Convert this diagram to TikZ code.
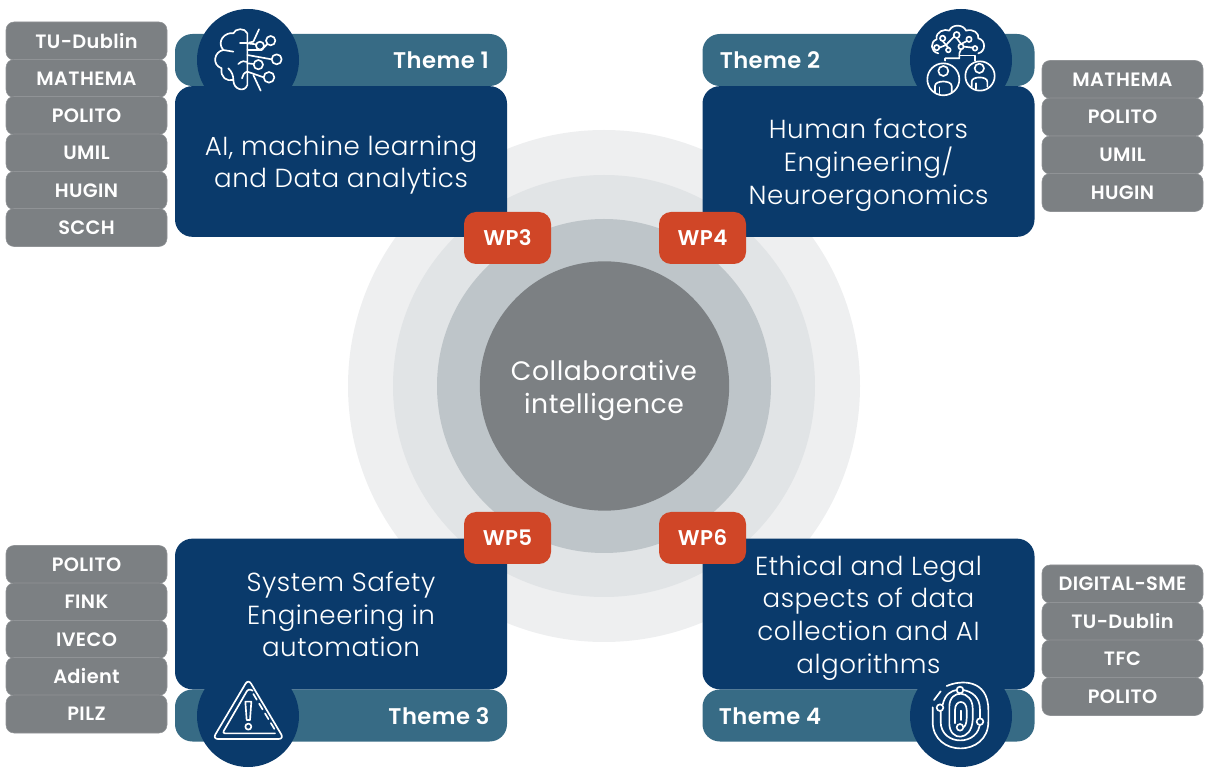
\documentclass[tikz,border=0pt]{standalone}
\usepackage{fontspec}
\setmainfont{Poppins}[UprightFont=* Light, BoldFont=* SemiBold]
\newfontfamily\pillfont[LetterSpace=2]{Poppins SemiBold}
\newfontfamily\corefont[LetterSpace=2]{Poppins}
\usetikzlibrary{positioning}
\definecolor{mnavy}{HTML}{0A3A6B}
\definecolor{mteal}{HTML}{376B85}
\definecolor{mred}{HTML}{D04627}
\definecolor{mgray}{HTML}{7C8083}
\definecolor{ringa}{HTML}{EEEFF0}
\definecolor{ringb}{HTML}{E1E4E6}
\definecolor{ringc}{HTML}{BEC5C9}
\tikzset{pill/.style = {fill=mgray, draw=mgray!85!white, line width=0.4pt, rounded corners=6pt, inner sep=0,
                        minimum width=120.75pt, minimum height=28.5pt, text=white,
                        font=\pillfont\fontsize{14.5}{14.5}\selectfont}}
\tikzset{mainbox/.style = {fill=mnavy, rounded corners=13pt, inner sep=0, minimum width=249pt, minimum height=113pt}}
\tikzset{themebar/.style = {fill=mteal, rounded corners=13pt, inner sep=0, minimum width=249pt, minimum height=39pt}}
\tikzset{iconback/.style = {fill=mnavy, circle, inner sep=0, minimum size=76.5pt}}
\tikzset{wpbadge/.style = {fill=mred, rounded corners=9pt, inner sep=0, minimum width=65.25pt, minimum height=39pt,
                           text=white, font=\bfseries\addfontfeature{LetterSpace=2}\fontsize{16}{16}\selectfont}}
\tikzset{themetext/.style = {text=white, inner sep=0, font=\bfseries\addfontfeature{LetterSpace=2}\fontsize{17}{17}\selectfont}}
\tikzset{bodytext/.style = {text=white, inner sep=0, align=center,
                            font=\addfontfeature{LetterSpace=2}\fontsize{19.6}{24.5}\selectfont}}
\tikzset{iconzoom/.style = {shift={(#1)}, x=0.25pt, y=-0.25pt, draw=white, line width=1.25pt, line cap=round, line join=round}}
\begin{document}
\begin{tikzpicture}[x=0.75pt, y=-0.75pt]
      \useasboundingbox (0, 0) rectangle (1208, 773);

      % rings
      \fill [color=ringa] (604, 386) circle [radius=256];
      \fill [color=ringb] (604, 386) circle [radius=211];
      \fill [color=ringc] (604, 386) circle [radius=167];
      \node [fill=mgray, circle, inner sep=0, minimum size=187pt] (core) at (604.5, 386) {};
      \node [text=white, inner sep=0, align=center,
             font=\corefont\fontsize{20}{24.7}\selectfont] (coretext) at (604, 390.5) {Collaborative\\intelligence};

      % theme bars
      \node [themebar] (barone) at (341, 60) {};
      \node [themebar] (bartwo) at (868.5, 60) {};
      \node [themebar] (barthree) at (341, 715.5) {};
      \node [themebar] (barfour) at (868.5, 715.5) {};
      \node [themetext] (labelone) at (441, 60.5) {Theme 1};
      \node [themetext] (labeltwo) at (770, 60.5) {Theme 2};
      \node [themetext] (labelthree) at (439, 716.5) {Theme 3};
      \node [themetext] (labelfour) at (770, 716.5) {Theme 4};

      % icon discs
      \node [iconback] (discone) at (248, 60) {};
      \node [iconback] (disctwo) at (961, 60) {};
      \node [iconback] (discthree) at (248, 716) {};
      \node [iconback] (discfour) at (961, 716) {};

      % main boxes
      \node [mainbox] (boxone) at (341, 161.5) {};
      \node [mainbox] (boxtwo) at (868.5, 161.5) {};
      \node [mainbox] (boxthree) at (341, 614) {};
      \node [mainbox] (boxfour) at (868.5, 614) {};
      \node [bodytext] (textone) at (341, 165) {AI, machine learning\\and Data analytics};
      \node [bodytext] (texttwo) at (868.5, 165) {Human factors\\Engineering/\\Neuroergonomics};
      \node [bodytext] (textthree) at (341, 614.5) {System Safety\\Engineering in\\automation};
      \node [bodytext] (textfour) at (868.5, 618) {Ethical and Legal\\aspects of data\\collection and AI\\algorithms};

      % badges
      \node [wpbadge] (wpthree) at (507.5, 238) {WP3};
      \node [wpbadge] (wpfour) at (702.5, 238) {WP4};
      \node [wpbadge] (wpfive) at (507.5, 538) {WP5};
      \node [wpbadge] (wpsix) at (702.5, 538) {WP6};

      % partner lists
      \node [pill] (a1) at (86.5, 41) {TU-Dublin};
      \node [pill] (a2) at (86.5, 78.5) {MATHEMA};
      \node [pill] (a3) at (86.5, 115.5) {POLITO};
      \node [pill] (a4) at (86.5, 153) {UMIL};
      \node [pill] (a5) at (86.5, 190.5) {HUGIN};
      \node [pill] (a6) at (86.5, 227.5) {SCCH};

      \node [pill] (b1) at (1122.5, 79.5) {MATHEMA};
      \node [pill] (b2) at (1122.5, 117) {POLITO};
      \node [pill] (b3) at (1122.5, 155) {UMIL};
      \node [pill] (b4) at (1122.5, 192.5) {HUGIN};

      \node [pill] (c1) at (86.5, 564.5) {POLITO};
      \node [pill] (c2) at (86.5, 602) {FINK};
      \node [pill] (c3) at (86.5, 639.5) {IVECO};
      \node [pill] (c4) at (86.5, 676.5) {Adient};
      \node [pill] (c5) at (86.5, 714) {PILZ};

      \node [pill] (d1) at (1122.5, 584) {DIGITAL-SME};
      \node [pill] (d2) at (1122.5, 621.5) {TU-Dublin};
      \node [pill] (d3) at (1122.5, 659) {TFC};
      \node [pill] (d4) at (1122.5, 696.5) {POLITO};

      % brain
      \begin{scope}[iconzoom={170,0}]
        \draw (232, 100) .. controls (225, 82) and (195, 85) .. (190, 100)
              .. controls (165, 95) and (138, 125) .. (160, 150)
              .. controls (132, 155) and (125, 195) .. (155, 205)
              .. controls (150, 232) and (170, 245) .. (190, 240)
              .. controls (190, 270) and (225, 278) .. (232, 255) -- cycle;
        \draw (160, 150) -- (190, 155);
        \draw (210, 130) -- (232, 130);
        \draw (205, 192) .. controls (215, 182) and (225, 182) .. (232, 186);
        \draw (175, 205) .. controls (185, 215) and (190, 225) .. (190, 240);
        \draw (232, 215) .. controls (222, 218) and (218, 225) .. (216, 235);
        \draw (237, 128) -- (250, 125) -- (267, 88);
        \draw (232, 130) -- (258, 133);
        \draw (270, 137) circle [radius=12];
        \draw (232, 150) -- (275, 150) -- (292, 132);
        \draw (302, 122) circle [radius=14];
        \draw (232, 165) -- (305, 178);
        \draw (320, 178) circle [radius=15];
        \draw (232, 190) -- (251, 192);
        \draw (265, 194) circle [radius=14];
        \draw (232, 215) -- (281, 232);
        \draw (297, 232) circle [radius=16];
        \draw (250, 225) -- (272, 272);
      \end{scope}

      % people and cloud
      \begin{scope}[iconzoom={880,0}]
        \draw (190, 238) circle [radius=48];
        \draw (300, 228) circle [radius=44];
        \draw (190, 213) circle [radius=15];
        \draw (298, 205) circle [radius=14];
        \draw (165, 278) -- (165, 258) .. controls (165, 240) and (215, 240) .. (215, 258) -- (215, 278);
        \draw (275, 260) -- (275, 245) .. controls (275, 228) and (322, 228) .. (322, 245) -- (322, 260);
        \draw (178, 280) -- (178, 262);
        \draw (288, 266) -- (288, 250);
        \draw (175, 160) .. controls (150, 155) and (150, 125) .. (170, 118)
              .. controls (165, 95) and (195, 85) .. (208, 92)
              .. controls (215, 72) and (250, 72) .. (258, 92)
              .. controls (280, 85) and (298, 100) .. (295, 115)
              .. controls (318, 120) and (318, 155) .. (295, 160);
        \draw (230, 105) circle [radius=9];
        \draw (267, 118) circle [radius=8];
        \draw (188, 115) circle [radius=8];
        \draw (170, 143) circle [radius=8];
        \draw (205, 150) circle [radius=7];
        \draw (243, 140) circle [radius=8];
        \draw (285, 145) circle [radius=7];
        \draw (178, 143) -- (198, 135) -- (205, 143);
        \draw (188, 123) -- (198, 135) -- (222, 110);
        \draw (230, 114) -- (243, 132);
        \draw (243, 132) -- (261, 123);
        \draw (251, 140) -- (278, 143);
        \draw (195, 182) -- (195, 175) -- (238, 175) -- (238, 160) -- (243, 148);
        \draw (238, 167) -- (285, 167) -- (285, 182);
      \end{scope}

      % warning sign
      \begin{scope}[iconzoom={170,670}]
        \draw [rounded corners=4pt] (235, 27) -- (342, 207) -- (128, 207) -- cycle;
        \draw [rounded corners=2pt] (248, 62) -- (235, 56) -- (157, 190) -- (315, 190);
        \draw [dash pattern=on 5pt off 3.5pt] (250, 72) -- (318, 185);
        \draw (226, 95) -- (244, 95) -- (240, 150) -- (230, 150) -- cycle;
        \draw (235, 170) circle [radius=9];
      \end{scope}

      % fingerprint
      \begin{scope}[iconzoom={880,670}]
        \draw (158, 112) -- (158, 155) .. controls (158, 262) and (325, 262) .. (325, 155)
              -- (325, 120) .. controls (325, 25) and (240, 30) .. (200, 48);
        \draw (162, 90) -- (182, 64);
        \draw (182, 122) -- (182, 155) .. controls (182, 230) and (300, 230) .. (300, 155)
              -- (300, 120) .. controls (300, 80) and (275, 65) .. (250, 60);
        \draw (230, 60) .. controls (215, 62) and (195, 72) .. (188, 104);
        \draw (208, 110) -- (208, 160) .. controls (208, 215) and (275, 215) .. (278, 150)
              -- (278, 115) .. controls (278, 60) and (208, 55) .. (208, 110);
        \draw (225, 160) -- (225, 120) .. controls (225, 88) and (260, 88) .. (260, 120) -- (260, 145)
              .. controls (260, 160) and (255, 170) .. (250, 172);
        \draw (243, 122) -- (243, 150);
        \draw [fill=mnavy] (240, 60) circle [radius=10];
        \draw [fill=mnavy] (180, 113) circle [radius=10];
        \draw [fill=mnavy] (300, 155) circle [radius=10];
        \draw [fill=mnavy] (240, 172) circle [radius=10];
      \end{scope}
    \end{tikzpicture}
\end{document}
